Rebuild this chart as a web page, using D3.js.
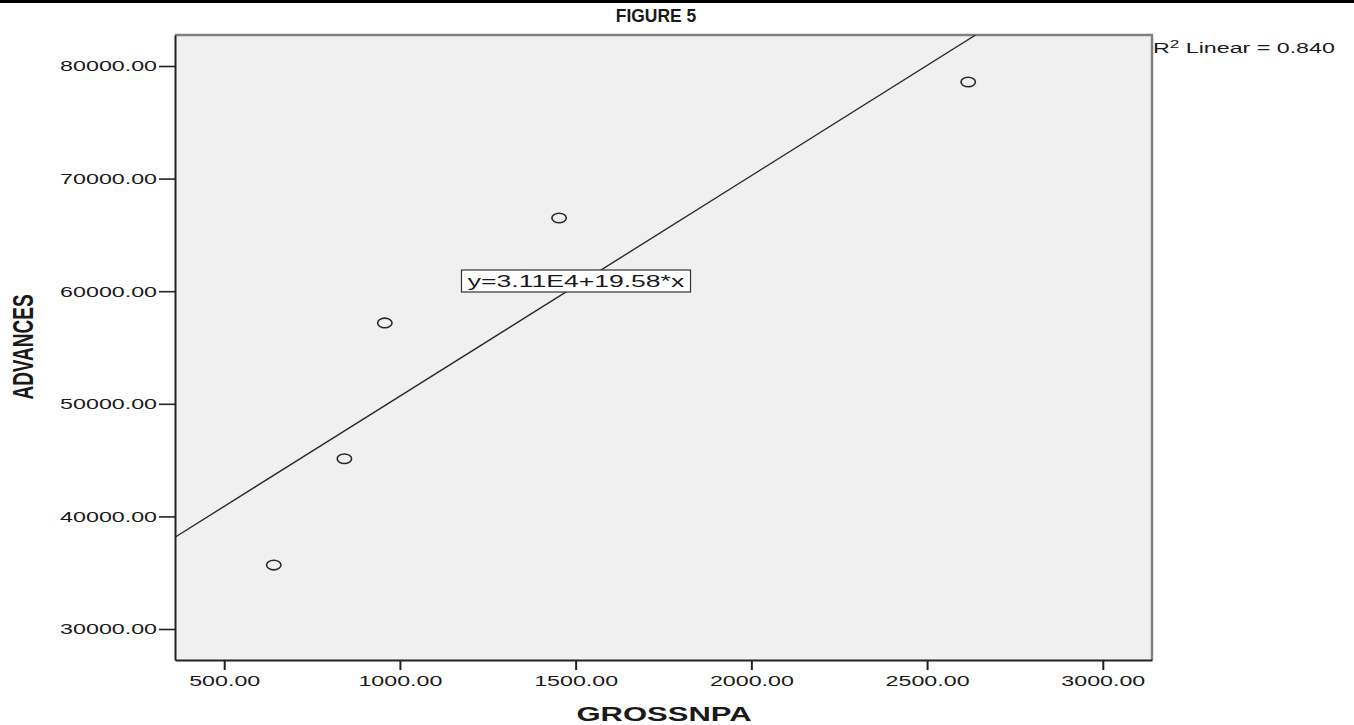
<!DOCTYPE html>
<html>
<head>
<meta charset="utf-8">
<script src="https://cdn.jsdelivr.net/npm/d3@7"></script>
<style>
  html, body { margin: 0; padding: 0; background: #ffffff; }
  svg { display: block; }
  text { font-family: Arial, "Liberation Sans", sans-serif; fill: #1a1a1a; }
</style>
</head>
<body>
<svg id="chart" width="1354" height="725"></svg>
<script>
// Observations: gross NPA vs advances
const grossNPA = [641, 842, 957, 1453, 2617];
const advances = [35680, 45120, 57180, 66500, 78580];

// Tick values for both axes
const xTicks = [500, 1000, 1500, 2000, 2500, 3000];
const yTicks = [30000, 40000, 50000, 60000, 70000, 80000];

// Fitted line: y = 3.11E4 + 19.58 * x, R^2 = 0.840
const fitIntercept = 31100;
const fitSlope = 19.58;
const rSquared = 0.840;

const W = 1354, H = 725;
const plot = { left: 175, right: 1152, top: 35, bottom: 660 };
const stretch = 1.55; // horizontal glyph stretch of all labels

const svg = d3.select("#chart");

const x = d3.scaleLinear().domain([360, 3140]).range([plot.left, plot.right]);
const y = d3.scaleLinear().domain([27247, 82753]).range([plot.bottom, plot.top]);
const fmt = d3.format(".2f");

// top rule
svg.append("rect").attr("x", 0).attr("y", 0).attr("width", W).attr("height", 3).attr("fill", "#000");

// title
svg.append("text")
  .attr("transform", `translate(656,22) scale(0.97,1)`)
  .attr("text-anchor", "middle")
  .style("font-weight", "bold")
  .style("font-size", "18px")
  .text("FIGURE 5");

// plot background
svg.append("rect")
  .attr("x", plot.left).attr("y", plot.top)
  .attr("width", plot.right - plot.left).attr("height", plot.bottom - plot.top)
  .attr("fill", "#f0f0f0");

// frame: top and right in grey
svg.append("path")
  .attr("d", `M${plot.left},${plot.top}H${plot.right}V${plot.bottom}`)
  .attr("fill", "none").attr("stroke", "#808080").attr("stroke-width", 2.5);

svg.append("defs").append("clipPath").attr("id", "plotClip")
  .append("rect")
  .attr("x", plot.left).attr("y", plot.top)
  .attr("width", plot.right - plot.left).attr("height", plot.bottom - plot.top);

// x axis
const xAxis = svg.append("g").attr("transform", `translate(0,${plot.bottom})`)
  .call(d3.axisBottom(x).tickValues(xTicks).tickSize(10).tickSizeOuter(0).tickPadding(4).tickFormat(fmt));
xAxis.select(".domain").attr("stroke", "#222").attr("stroke-width", 2);
xAxis.selectAll(".tick line").attr("stroke", "#222").attr("stroke-width", 2);
xAxis.selectAll(".tick text")
  .attr("y", 26).attr("dy", null).attr("x", 0)
  .style("font-size", "15px").style("fill", "#1a1a1a")
  .attr("transform", `scale(${stretch},1)`);

// y axis
const yAxis = svg.append("g").attr("transform", `translate(${plot.left},0)`)
  .call(d3.axisLeft(y).tickValues(yTicks).tickSize(16).tickSizeOuter(0).tickPadding(2).tickFormat(fmt));
yAxis.select(".domain").attr("stroke", "#222").attr("stroke-width", 2);
yAxis.selectAll(".tick line").attr("stroke", "#222").attr("stroke-width", 1.6);
yAxis.selectAll(".tick text")
  .style("font-size", "15px").style("fill", "#1a1a1a")
  .attr("x", -18 / stretch)
  .attr("transform", `scale(${stretch},1)`);

// regression line
const xa = x.domain()[0];
const xb = (y.domain()[1] - fitIntercept) / fitSlope;
svg.append("line")
  .attr("clip-path", "url(#plotClip)")
  .attr("x1", x(xa)).attr("y1", y(fitIntercept + fitSlope * xa))
  .attr("x2", x(xb)).attr("y2", y(fitIntercept + fitSlope * xb))
  .attr("stroke", "#2a2a2a").attr("stroke-width", 1.4);

// points
svg.append("g").selectAll("ellipse")
  .data(grossNPA.map((g, i) => ({ g, a: advances[i] })))
  .join("ellipse")
  .attr("cx", d => x(d.g)).attr("cy", d => y(d.a))
  .attr("rx", 7.2).attr("ry", 4.8)
  .attr("fill", "none").attr("stroke", "#2a2a2a").attr("stroke-width", 1.6);

// equation box
const eq = svg.append("g").attr("transform", "translate(576,281)");
eq.append("rect")
  .attr("x", -114.5).attr("y", -11).attr("width", 229).attr("height", 22)
  .attr("fill", "#ffffff").attr("stroke", "#333").attr("stroke-width", 1.2);
eq.append("text")
  .attr("transform", "scale(1.66,1)")
  .attr("text-anchor", "middle").attr("y", 6)
  .style("font-size", "16px")
  .text(`y=3.11E4+${fitSlope.toFixed(2)}*x`);

// R^2 annotation
const r2 = svg.append("text")
  .attr("transform", `translate(1153,53) scale(${stretch},1)`)
  .style("font-size", "15px");
r2.append("tspan").text("R");
r2.append("tspan").attr("dy", -5).style("font-size", "11px").text("2");
r2.append("tspan").attr("dy", 5).text(` Linear = ${rSquared.toFixed(3)}`);

// axis titles
svg.append("text")
  .attr("transform", `translate(664,721) scale(${stretch},1)`)
  .attr("text-anchor", "middle")
  .style("font-weight", "bold").style("font-size", "20px")
  .text("GROSSNPA");

svg.append("text")
  .attr("transform", `translate(33,347) scale(${stretch},1) rotate(-90)`)
  .attr("text-anchor", "middle")
  .style("font-weight", "bold").style("font-size", "19px")
  .text("ADVANCES");
</script>
</body>
</html>
